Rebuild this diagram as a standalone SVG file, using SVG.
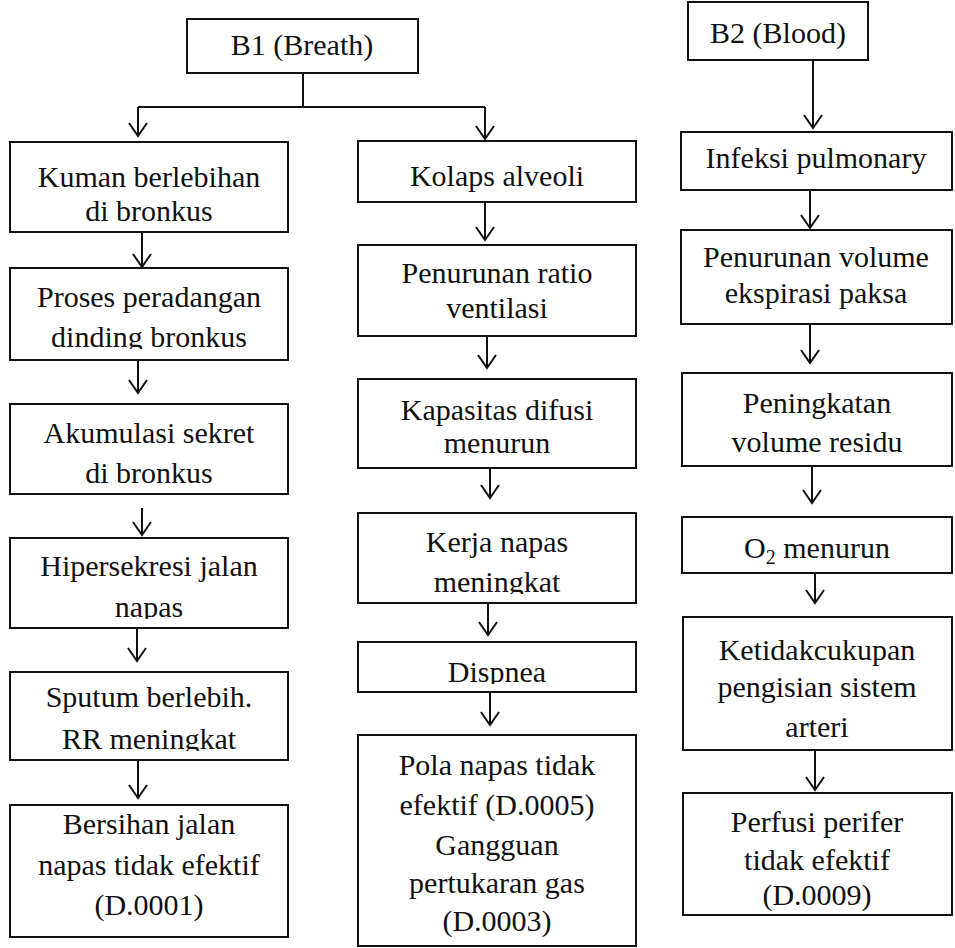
<svg xmlns="http://www.w3.org/2000/svg" width="955" height="948" viewBox="0 0 955 948">
  <style>
    .box { fill: #fff; stroke: #111; stroke-width: 2; }
    .lbl { font-family: "Liberation Serif", "Times New Roman", serif; font-size: 30px; fill: #111; text-anchor: middle; }
    .sub { font-size: 20px; }
    .link { fill: none; stroke: #111; stroke-width: 2; }
  </style>
  <defs>
    <marker id="arrow" markerUnits="userSpaceOnUse" markerWidth="24" markerHeight="24" viewBox="0 0 24 24" refX="14" refY="12" orient="auto">
      <path d="M1 3 L14 12 L1 21" fill="none" stroke="#111" stroke-width="2"/>
    </marker>
    <!-- text areas of the boxes whose last line runs past the inner margin -->
    <clipPath id="c-kuman"><rect x="10" y="142" width="278" height="80"/></clipPath>
    <clipPath id="c-proses"><rect x="10" y="268" width="278" height="81"/></clipPath>
    <clipPath id="c-akum"><rect x="10" y="404" width="278" height="81"/></clipPath>
    <clipPath id="c-hiper"><rect x="10" y="538" width="278" height="81"/></clipPath>
    <clipPath id="c-sputum"><rect x="10" y="672" width="278" height="79"/></clipPath>
    <clipPath id="c-kerja"><rect x="358" y="513" width="278" height="81"/></clipPath>
    <clipPath id="c-disp"><rect x="358" y="642" width="278" height="42"/></clipPath>
  </defs>

  <!-- B1 branch -->
  <g id="b1">
    <rect class="box" x="187" y="19" width="231" height="54"/>
    <text class="lbl" x="302" y="55">B1 (Breath)</text>
  </g>
  <g id="kuman">
    <rect class="box" x="10" y="142" width="278" height="90"/>
    <g clip-path="url(#c-kuman)">
      <text class="lbl" x="149" y="187">Kuman berlebihan</text>
      <text class="lbl" x="149" y="221">di bronkus</text>
    </g>
  </g>
  <g id="proses">
    <rect class="box" x="10" y="268" width="278" height="92"/>
    <g clip-path="url(#c-proses)">
      <text class="lbl" x="149" y="307">Proses peradangan</text>
      <text class="lbl" x="149" y="347">dinding bronkus</text>
    </g>
  </g>
  <g id="akumulasi">
    <rect class="box" x="10" y="404" width="278" height="90"/>
    <g clip-path="url(#c-akum)">
      <text class="lbl" x="149" y="443">Akumulasi sekret</text>
      <text class="lbl" x="149" y="483">di bronkus</text>
    </g>
  </g>
  <g id="hipersekresi">
    <rect class="box" x="10" y="538" width="278" height="90"/>
    <g clip-path="url(#c-hiper)">
      <text class="lbl" x="149" y="576">Hipersekresi jalan</text>
      <text class="lbl" x="149" y="617">napas</text>
    </g>
  </g>
  <g id="sputum">
    <rect class="box" x="10" y="672" width="278" height="88"/>
    <g clip-path="url(#c-sputum)">
      <text class="lbl" x="149" y="707">Sputum berlebih.</text>
      <text class="lbl" x="149" y="749">RR meningkat</text>
    </g>
  </g>
  <g id="bersihan">
    <rect class="box" x="10" y="805" width="278" height="132"/>
    <text class="lbl" x="149" y="834">Bersihan jalan</text>
    <text class="lbl" x="149" y="875">napas tidak efektif</text>
    <text class="lbl" x="149" y="915">(D.0001)</text>
  </g>

  <g id="kolaps">
    <rect class="box" x="358" y="141" width="278" height="61"/>
    <text class="lbl" x="497" y="186">Kolaps alveoli</text>
  </g>
  <g id="ratio">
    <rect class="box" x="358" y="245" width="278" height="91"/>
    <text class="lbl" x="497" y="283">Penurunan ratio</text>
    <text class="lbl" x="497" y="318">ventilasi</text>
  </g>
  <g id="kapasitas">
    <rect class="box" x="358" y="379" width="278" height="89"/>
    <text class="lbl" x="497" y="420">Kapasitas difusi</text>
    <text class="lbl" x="497" y="453">menurun</text>
  </g>
  <g id="kerja">
    <rect class="box" x="358" y="513" width="278" height="90"/>
    <g clip-path="url(#c-kerja)">
      <text class="lbl" x="497" y="552">Kerja napas</text>
      <text class="lbl" x="497" y="592">meningkat</text>
    </g>
  </g>
  <g id="dispnea">
    <rect class="box" x="358" y="642" width="278" height="50"/>
    <g clip-path="url(#c-disp)">
      <text class="lbl" x="497" y="682">Dispnea</text>
    </g>
  </g>
  <g id="pola">
    <rect class="box" x="358" y="735" width="278" height="211"/>
    <text class="lbl" x="497" y="775">Pola napas tidak</text>
    <text class="lbl" x="497" y="815">efektif (D.0005)</text>
    <text class="lbl" x="497" y="855">Gangguan</text>
    <text class="lbl" x="497" y="893">pertukaran gas</text>
    <text class="lbl" x="497" y="931">(D.0003)</text>
  </g>

  <!-- B2 branch -->
  <g id="b2">
    <rect class="box" x="688" y="2" width="180" height="58"/>
    <text class="lbl" x="778" y="43">B2 (Blood)</text>
  </g>
  <g id="infeksi">
    <rect class="box" x="681" y="132" width="271" height="58"/>
    <text class="lbl" x="816" y="168">Infeksi pulmonary</text>
  </g>
  <g id="volume">
    <rect class="box" x="681" y="230" width="271" height="94"/>
    <text class="lbl" x="816" y="267">Penurunan volume</text>
    <text class="lbl" x="816" y="303">ekspirasi paksa</text>
  </g>
  <g id="residu">
    <rect class="box" x="682" y="373" width="270" height="93"/>
    <text class="lbl" x="817" y="413">Peningkatan</text>
    <text class="lbl" x="817" y="452">volume residu</text>
  </g>
  <g id="o2">
    <rect class="box" x="682" y="517" width="270" height="56"/>
    <text class="lbl" x="817" y="558">O<tspan class="sub" dy="6">2</tspan><tspan dy="-6"> menurun</tspan></text>
  </g>
  <g id="ketidakcukupan">
    <rect class="box" x="683" y="617" width="269" height="133"/>
    <text class="lbl" x="817" y="660">Ketidakcukupan</text>
    <text class="lbl" x="817" y="697">pengisian sistem</text>
    <text class="lbl" x="817" y="737">arteri</text>
  </g>
  <g id="perfusi">
    <rect class="box" x="683" y="793" width="269" height="122"/>
    <text class="lbl" x="817" y="832">Perfusi perifer</text>
    <text class="lbl" x="817" y="870">tidak efektif</text>
    <text class="lbl" x="817" y="905">(D.0009)</text>
  </g>

  <g id="connectors">
    <path class="link" d="M303 73 V107 M138 107 H485"/>
    <path class="link" d="M138 107 V136" marker-end="url(#arrow)"/>
    <path class="link" d="M485 107 V139" marker-end="url(#arrow)"/>
    <path class="link" d="M142 232 V267" marker-end="url(#arrow)"/>
    <path class="link" d="M138 360 V393" marker-end="url(#arrow)"/>
    <path class="link" d="M142 508 V535" marker-end="url(#arrow)"/>
    <path class="link" d="M137 628 V661" marker-end="url(#arrow)"/>
    <path class="link" d="M138 760 V798" marker-end="url(#arrow)"/>
    <path class="link" d="M485 202 V240" marker-end="url(#arrow)"/>
    <path class="link" d="M487 336 V368" marker-end="url(#arrow)"/>
    <path class="link" d="M490 468 V498" marker-end="url(#arrow)"/>
    <path class="link" d="M488 603 V635" marker-end="url(#arrow)"/>
    <path class="link" d="M490 692 V725" marker-end="url(#arrow)"/>
    <path class="link" d="M813 60 V128" marker-end="url(#arrow)"/>
    <path class="link" d="M810 190 V228" marker-end="url(#arrow)"/>
    <path class="link" d="M810 324 V363" marker-end="url(#arrow)"/>
    <path class="link" d="M812 466 V503" marker-end="url(#arrow)"/>
    <path class="link" d="M815 573 V603" marker-end="url(#arrow)"/>
    <path class="link" d="M815 750 V790" marker-end="url(#arrow)"/>
  </g>
</svg>
